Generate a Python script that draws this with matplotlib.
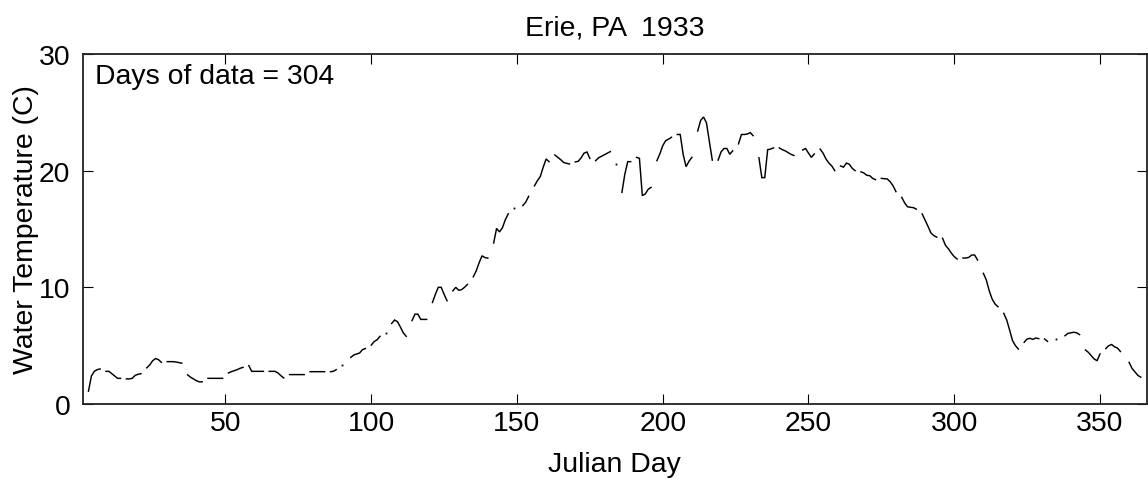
import numpy as np
import matplotlib
matplotlib.use('Agg')
import matplotlib.pyplot as plt

N = np.nan
# Daily water temperature (C), Erie PA 1933; N = missing day
jan = [N, N, 1.1, 2.4, 2.8, 2.95, 3.0, N, 2.8, 2.8, 2.6, 2.4, 2.2, 2.2, N,
       2.15, 2.15, 2.2, 2.45, 2.55, 2.6, N, 3.1, 3.35, 3.7, 3.9, 3.8, 3.57, N,
       3.63, 3.63]
feb = [3.63, 3.6, 3.55, 3.5, N, 2.5, 2.3, 2.15, 2.0, 1.9, 1.9, N,
       2.2, 2.2, 2.2, 2.2, 2.2, 2.2, N, 2.66, 2.77, 2.86, 2.94, 3.06, 3.14, N,
       3.29, 2.8]
mar = [2.8, 2.8, 2.8, 2.8, N, 2.8, 2.8, 2.8, 2.66, 2.43, 2.23, N,
       2.52, 2.52, 2.52, 2.52, 2.52, 2.52, N, 2.77, 2.77, 2.77, 2.77, 2.77, 2.77, N,
       2.77, 2.8, 2.94, N, 3.35]
apr = [N, N, 4.0, 4.2, 4.29, 4.37, 4.66, 4.75, N, 5.05, 5.35, 5.5, 5.8, N,
       6.1, N, 6.9, 7.2, 7.05, 6.6, 6.1, 5.8, N, 7.15, 7.7, 7.7, 7.25, 7.25,
       7.25, N]
may = [8.7, 9.4, 10.0, 10.0, 9.4, 8.85, N, 9.7, 10.0, 9.75, 9.8, 10.0, 10.25, N,
       10.9, 11.4, 12.1, 12.7, 12.55, 12.5, N, 13.8, 15.05, 14.75, 15.1, 15.8,
       16.3, N, 16.8, N, N]
jun = [17.0, 17.3, 17.8, N, 18.7, 19.14, 19.5, 20.3, 21.0, 20.77, N,
       21.34, 21.14, 20.94, 20.7, 20.63, 20.57, N, 20.75, 20.8, 21.1, 21.5, 21.6,
       21.05, N, 20.86, 21.1, 21.23, 21.37, 21.5]
jul = [21.63, N, 20.6, N, 18.14, 19.7, 20.77, 20.77, N, 21.14, 21.06, 17.86,
       18.0, 18.4, 18.57, N, 20.86, 21.43, 22.14, 22.57, 22.7, 22.86, N,
       23.1, 23.1, 21.4, 20.34, 20.8, 21.14, N, 23.4]
aug = [24.3, 24.6, 24.1, 22.5, 20.9, N, 20.9, 21.6, 21.9, 21.9, 21.4, 21.7, N,
       22.3, 23.1, 23.1, 23.14, 23.26, 23.0, N, 21.1, 19.4, 19.4, 21.8, 21.85,
       21.95, N, 21.95, 21.8, 21.7, 21.55]
sep = [21.4, 21.3, N, N, 21.77, 21.9, 21.5, 21.14, 21.43, N,
       21.85, 21.5, 21.0, 20.65, 20.4, 20.0, N, 20.4, 20.3, 20.65, 20.55, 20.2,
       20.0, N, 19.9, 19.8, 19.6, 19.57, 19.34, 19.23]
oct_ = [N, 19.34, 19.31, 19.29, 19.06, 18.71, 18.2, N, 17.71, 17.23, 16.9, 16.86,
        16.83, 16.7, N, 16.29, 15.77, 15.23, 14.66, 14.43, 14.3, N,
        14.2, 13.6, 13.3, 12.94, 12.63, 12.43, N, 12.51, 12.51]
nov = [12.57, 12.77, 12.77, 12.34, N, 11.2, 10.63, 9.71, 9.0, 8.57, 8.34, N,
       7.77, 7.2, 6.34, 5.43, 5.0, 4.71, N, 5.29, 5.57, 5.63, 5.54, 5.66, 5.6, N,
       5.57, 5.37, N, N]
dec = [5.57, N, N, 5.85, 6.05, 6.1, 6.15, 6.1, 5.95, N, 4.63, 4.43, 4.14, 3.86,
       3.71, 4.29, N, 4.75, 5.0, 5.1, 4.9, 4.8, 4.5, N, N, 3.57, 3.05, 2.75,
       2.45, 2.3, N]

temps = np.array(jan + feb + mar + apr + may + jun + jul + aug + sep + oct_ + nov + dec,
                 dtype=float)
days = np.arange(1, len(temps) + 1)
n_days = 304

title_text = 'Erie, PA  1933'
xticks = [50, 100, 150, 200, 250, 300, 350]
yticks = [0, 10, 20, 30]

FONT = ['Liberation Sans', 'DejaVu Sans']
plt.rcParams['font.family'] = FONT
FS = 20.4

fig = plt.figure(figsize=(11.48, 4.81), dpi=100)
ax = fig.add_axes([0.0720, 0.158, 0.9268, 0.7277])

ax.plot(days, temps, color='k', lw=1.05, solid_joinstyle='miter')
# isolated single days drawn as tiny dots
valid = np.isfinite(temps)
prev = np.r_[False, valid[:-1]]
nxt = np.r_[valid[1:], False]
iso = valid & ~prev & ~nxt
ax.plot(days[iso], temps[iso], ls='none', marker='s', ms=1.3, color='k', mew=0)

ax.set_xlim(1, 366)
ax.set_ylim(0, 30)
ax.set_xticks(xticks)
ax.set_yticks(yticks)
ax.tick_params(direction='in', length=7, width=0.8, top=True, right=True,
               labelsize=FS, colors='k')
ax.tick_params(axis='x', pad=4)
ax.tick_params(axis='y', pad=9)
for s in ax.spines.values():
    s.set_linewidth(1.3)
    s.set_color('#222222')

ax.set_xlabel('Julian Day', fontsize=FS)
ax.xaxis.set_label_coords(0.5, -0.133)
ax.set_ylabel('Water Temperature (C)', fontsize=FS)
ax.yaxis.set_label_coords(-0.041, 0.5)
ax.set_title(title_text, fontsize=FS, pad=14)
ax.text(0.012, 0.975, 'Days of data = %d' % n_days, transform=ax.transAxes,
        ha='left', va='top', fontsize=FS)

fig.savefig('out.png', dpi=100)
